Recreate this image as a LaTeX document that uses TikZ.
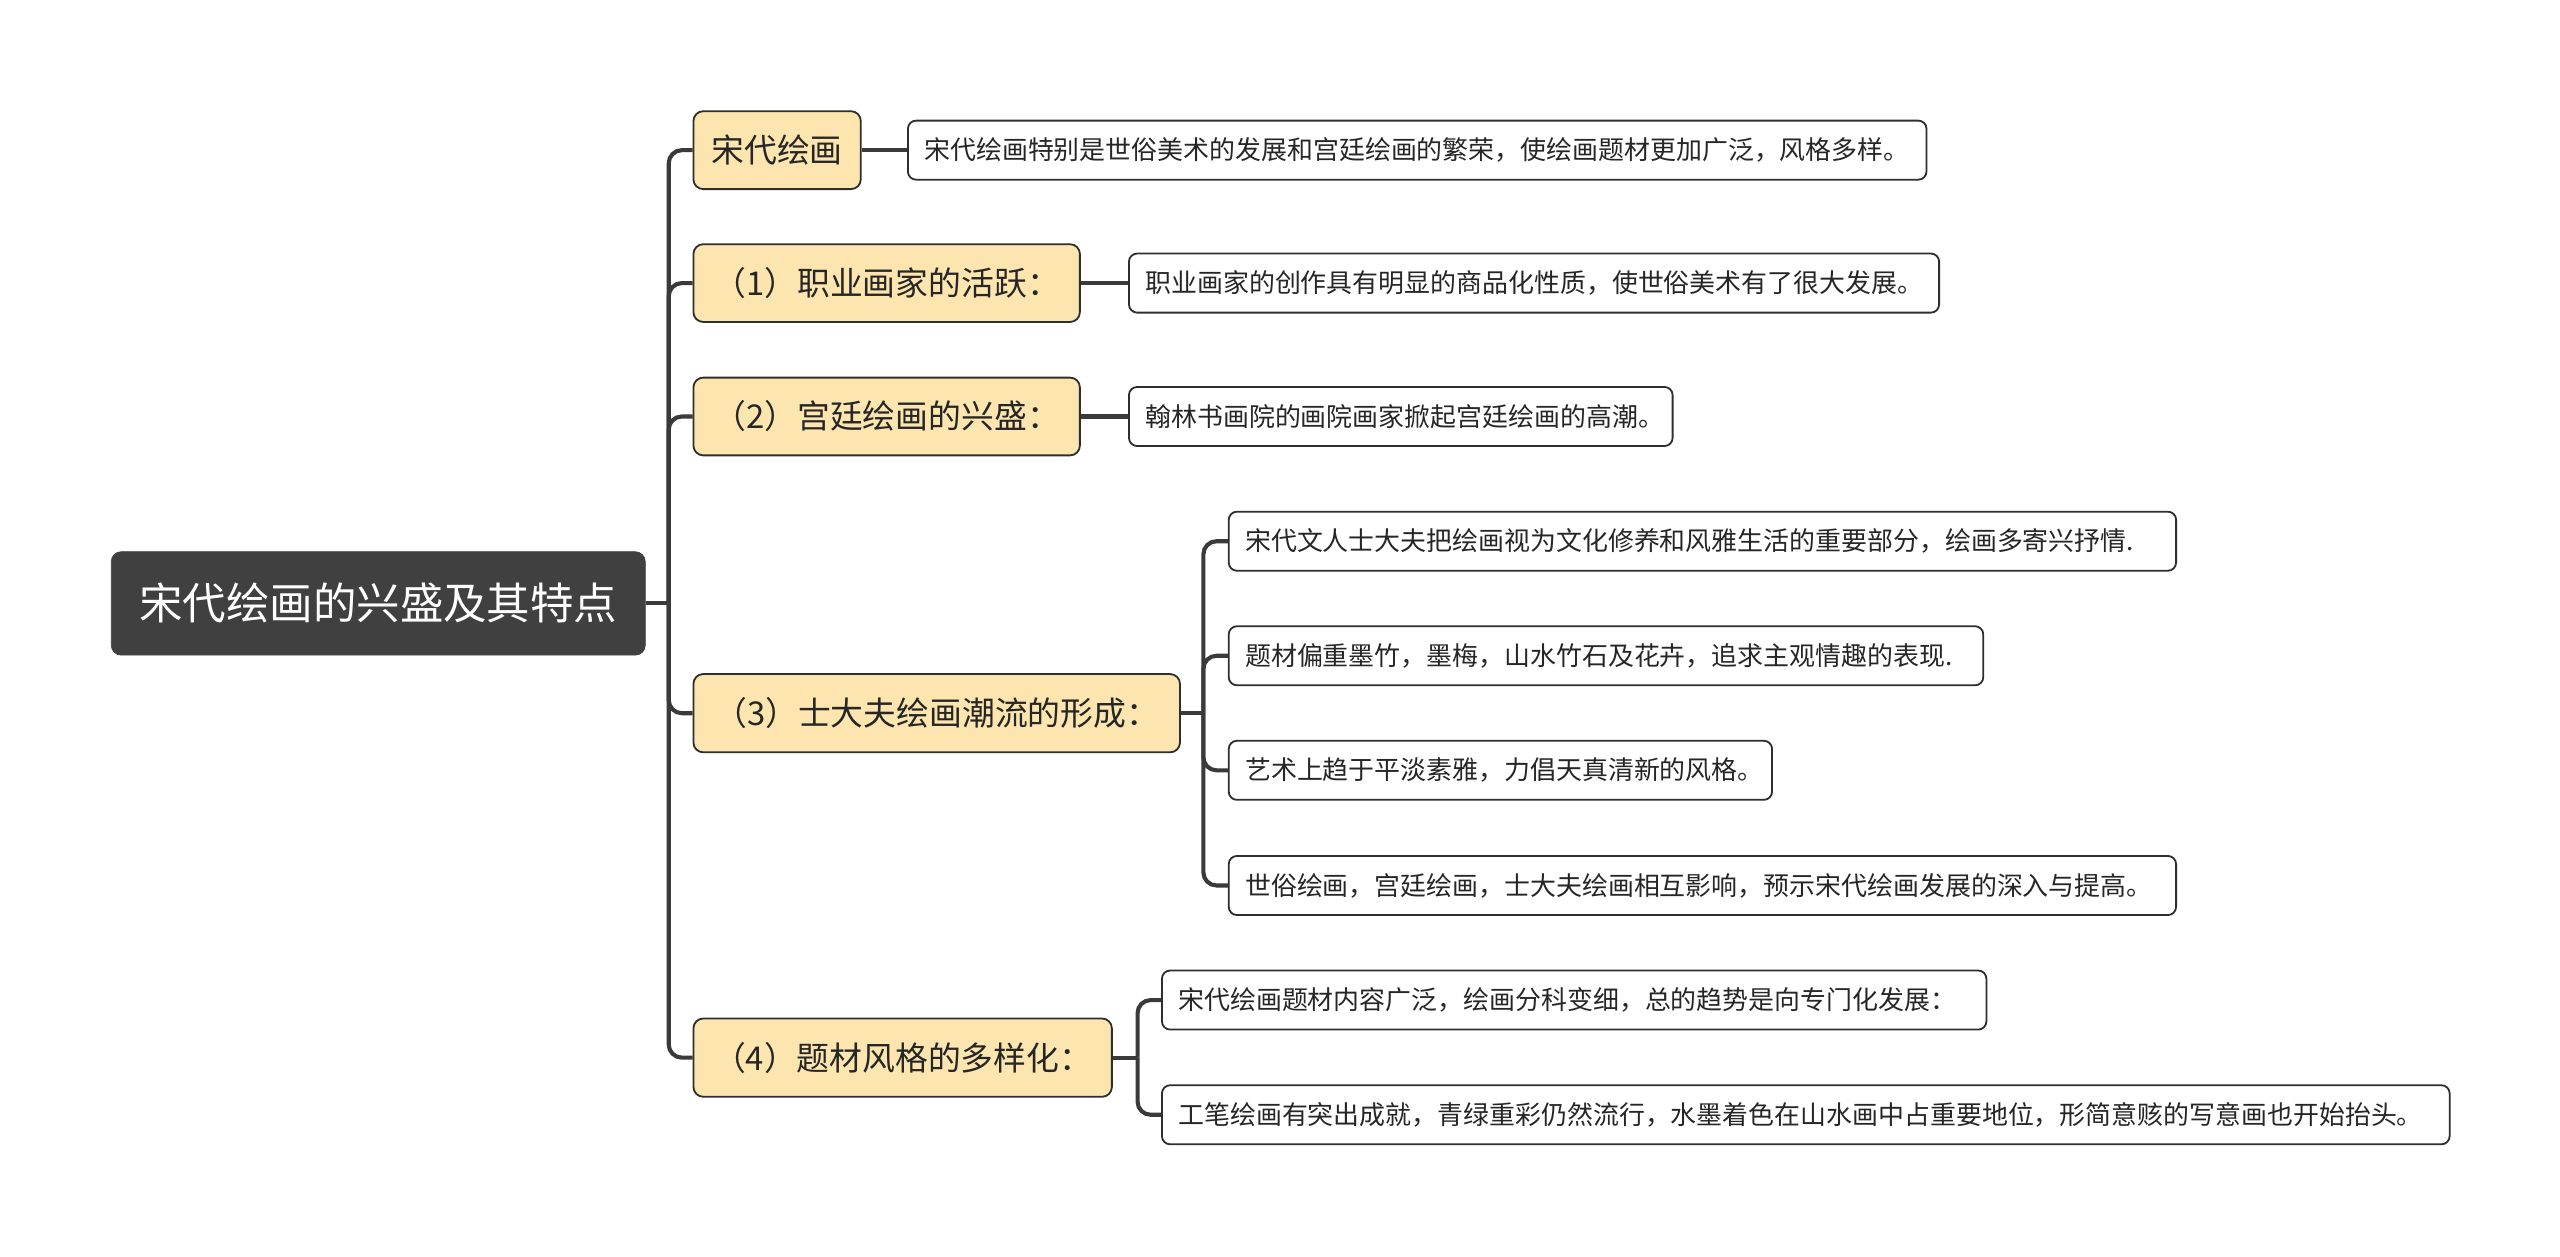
\documentclass[tikz,border=0pt]{standalone}
\usepackage{fontspec}
\newfontfamily\cjk{Noto Sans CJK SC}
\definecolor{rootfill}{HTML}{404040}
\definecolor{lonefill}{HTML}{FCE5AE}
\definecolor{edge}{HTML}{2E2E2E}
\definecolor{conn}{HTML}{3A3A3A}
\definecolor{txt}{HTML}{262626}
\newcommand\lefttext[2]{\makebox[#1pt][l]{\hspace{10pt}#2}}
\tikzset{
  rootbox/.style={draw=rootfill, fill=rootfill, rounded corners=6pt, text=white,
    font=\cjk\fontsize{26.5}{30}\selectfont, inner sep=0pt, anchor=west},
  lonebox/.style={draw=edge, line width=1.1pt, fill=lonefill, rounded corners=6pt, text=txt,
    font=\cjk\fontsize{20}{24}\selectfont, inner xsep=4pt, inner ysep=0pt, anchor=west},
  descbox/.style={draw=edge, line width=1.1pt, fill=white, rounded corners=5pt, text=txt,
    font=\cjk\fontsize{15.8}{19}\selectfont, inner xsep=0pt, inner ysep=0pt,
    minimum height=36pt, anchor=west},
  link/.style={draw=conn, line width=2.5pt, rounded corners=8pt},
  straight/.style={draw=conn, line width=2.5pt}
}
\begin{document}
\begin{tikzpicture}[x=1pt,y=-1pt]
\useasboundingbox (0,0) rectangle (1560,765.4);
% root
\node[rootbox, minimum width=325.4pt, minimum height=63pt] (root) at (67.6,367.7) {宋代绘画的兴盛及其特点};
% level 1
\node[lonebox, minimum width=102pt, minimum height=47.5pt] (n0) at (422,91.5) {宋代绘画};
\node[lonebox, minimum width=235.5pt, minimum height=47.4pt] (n1) at (422,172.5) {（1）职业画家的活跃：};
\node[lonebox, minimum width=235.5pt, minimum height=47.4pt] (n2) at (422,253.8) {（2）宫廷绘画的兴盛：};
\node[lonebox, minimum width=296.5pt, minimum height=47.7pt] (n3) at (422,434.6) {（3）士大夫绘画潮流的形成：};
\node[lonebox, minimum width=255pt, minimum height=47.7pt] (n4) at (422,644.5) {（4）题材风格的多样化：};
% level 2
\node[descbox] (d0) at (552.7,91.5) {\lefttext{620.7}{宋代绘画特别是世俗美术的发展和宫廷绘画的繁荣，使绘画题材更加广泛，风格多样。}};
\node[descbox] (d1) at (687.4,172.5) {\lefttext{493.7}{职业画家的创作具有明显的商品化性质，使世俗美术有了很大发展。}};
\node[descbox] (d2) at (687.4,253.8) {\lefttext{331.3}{翰林书画院的画院画家掀起宫廷绘画的高潮。}};
\node[descbox] (d3a) at (748.2,329.8) {\lefttext{577.3}{宋代文人士大夫把绘画视为文化修养和风雅生活的重要部分，绘画多寄兴抒情.}};
\node[descbox] (d3b) at (748.2,399.6) {\lefttext{459.8}{题材偏重墨竹，墨梅，山水竹石及花卉，追求主观情趣的表现.}};
\node[descbox] (d3c) at (748.2,469.4) {\lefttext{331.1}{艺术上趋于平淡素雅，力倡天真清新的风格。}};
\node[descbox] (d3d) at (748.2,539.6) {\lefttext{577.3}{世俗绘画，宫廷绘画，士大夫绘画相互影响，预示宋代绘画发展的深入与提高。}};
\node[descbox] (d4a) at (707.5,609.4) {\lefttext{502.4}{宋代绘画题材内容广泛，绘画分科变细，总的趋势是向专门化发展：}};
\node[descbox] (d4b) at (707.5,679.3) {\lefttext{784.7}{工笔绘画有突出成就，青绿重彩仍然流行，水墨着色在山水画中占重要地位，形简意赅的写意画也开始抬头。}};
% junction points
\coordinate (tr) at (407.5,367.7);
\coordinate (s3) at (733.3,434.6);
\coordinate (s4) at (693.2,644.5);
% root to level 1
\draw[straight] (root.east) -- (tr);
\foreach \n in {n0,n1,n2,n3,n4} { \draw[link] (tr) |- (\n.west); }
% level 1 to level 2
\draw[straight] (n0.east) -- (d0.west);
\draw[straight] (n1.east) -- (d1.west);
\draw[straight] (n2.east) -- (d2.west);
\draw[straight] (n3.east) -- (s3);
\foreach \n in {d3a,d3b,d3c,d3d} { \draw[link] (s3) |- (\n.west); }
\draw[straight] (n4.east) -- (s4);
\foreach \n in {d4a,d4b} { \draw[link] (s4) |- (\n.west); }
\end{tikzpicture}
\end{document}
